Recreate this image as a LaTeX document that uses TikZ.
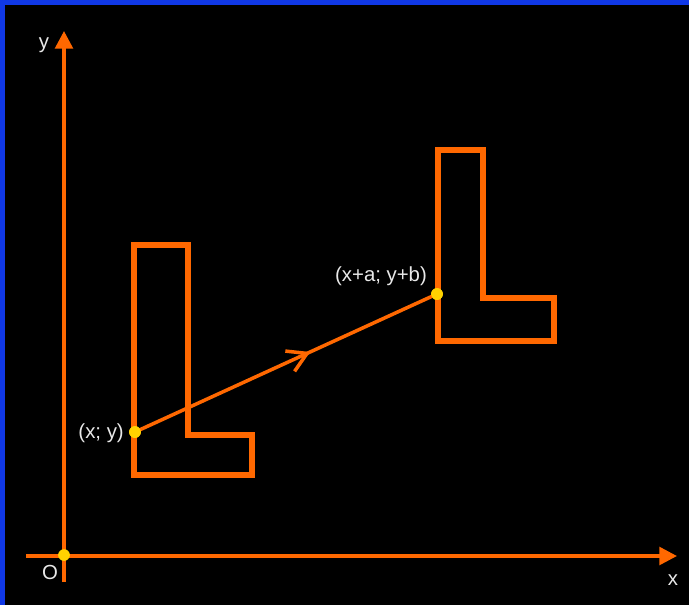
\documentclass[tikz,border=0pt]{standalone}
\usepackage{fontspec}
\setmainfont{Liberation Sans}
\usetikzlibrary{arrows.meta,decorations.markings}
\definecolor{frameblue}{RGB}{16,56,230}
\definecolor{lineorange}{RGB}{255,104,0}
\definecolor{dotyellow}{RGB}{255,210,0}
\definecolor{labelgray}{RGB}{232,232,232}
\tikzset{
  axis/.style={lineorange,line width=3pt,-{Triangle[length=15pt,width=15pt]}},
  lshape/.style={lineorange,line width=5.2pt,line join=miter},
  vec/.style={lineorange,line width=3pt,
    postaction={decorate},
    decoration={markings,mark=at position 0.58 with
      {\arrow{Straight Barb[length=16pt,width=19pt,line width=3pt]}}}},
  dot/.style={circle,fill=dotyellow,inner sep=0pt,minimum size=10pt},
  lbl/.style={text=labelgray,font=\fontsize{17.4}{20}\selectfont,inner sep=0pt},
}

\begin{document}
\begin{tikzpicture}[x=0.03cm,y=-0.03cm]

% frame and background
\fill[frameblue] (0,0) rectangle (689,605);
\fill[black] (5,5) rectangle (689,605);

% axes
\coordinate (xstart) at (26,556);
\coordinate (xend) at (677,556);
\coordinate (ystart) at (64,582);
\coordinate (yend) at (64,31);
\draw[axis] (xstart) -- (xend);
\draw[axis] (ystart) -- (yend);

\node[lbl] (xlabel) at (673,580) {x};
\node[lbl] (ylabel) at (44,45) {y};
\node[lbl] (olabel) at (50,572) {O};

% the two L figures
\draw[lshape] (134,245) -- (188,245) -- (188,435) -- (252,435)
  -- (252,475) -- (134,475) -- cycle;
\draw[lshape] (438,150) -- (483,150) -- (483,298) -- (554,298)
  -- (554,341) -- (438,341) -- cycle;

% points and vector
\node[dot] (orig) at (64,555) {};
\node[dot] (P) at (135,432) {};
\node[dot] (Q) at (437,294) {};
\draw[vec] (P.center) -- (Q.center);
\node[dot] at (P) {};
\node[dot] at (Q) {};

\node[lbl,anchor=east] (plabel) at (124,433) {(x; y)};
\node[lbl] (qlabel) at (381,276) {(x+a; y+b)};

\end{tikzpicture}
\end{document}
